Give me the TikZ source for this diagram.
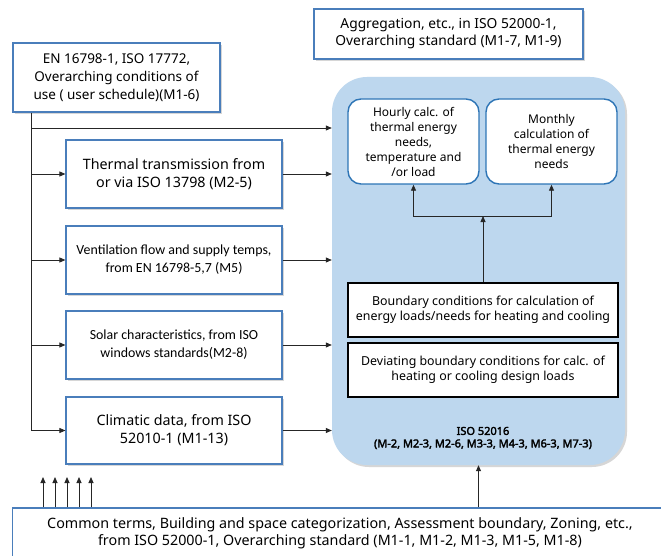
\documentclass[tikz,border=0pt]{standalone}
\usepackage{fontspec}
\setmainfont{Noto Sans}[AutoFakeBold=2.5]
\newfontfamily\condfont{Carlito}
\usetikzlibrary{arrows.meta,shadows,positioning}
\definecolor{boxblue}{HTML}{4A7EBB}
\definecolor{roundblue}{HTML}{2E75B6}
\definecolor{bigfill}{HTML}{BDD7EE}
\tikzset{
  shad/.style={drop shadow={shadow xshift=1.6pt,shadow yshift=-1.6pt,opacity=0.35,fill=black!45}},
  srcbox/.style={draw=boxblue,line width=1.2pt,fill=white,shad,align=center,inner sep=0pt,
    font=\fontsize{13.8}{18}\selectfont},
  innerround/.style={draw=roundblue,line width=1.4pt,fill=white,rounded corners=13pt,align=center,
    inner sep=0pt,minimum width=131pt,minimum height=85pt,font=\fontsize{12}{15}\selectfont},
  bcbox/.style={draw=black,line width=1.3pt,fill=white,align=center,inner sep=0pt,
    minimum width=270pt,minimum height=54pt,font=\fontsize{12.4}{15}\selectfont},
  arr/.style={-{Triangle[length=6pt,width=5pt]},line width=0.8pt,draw=black!85},
  ln/.style={line width=0.8pt,draw=black!85}
}
\begin{document}
\begin{tikzpicture}[x=1pt,y=-1pt]
\clip (0,0) rectangle (661,556);
\fill[white] (0,0) rectangle (661,556);

% big container
\node[fill=bigfill,rounded corners=35pt,minimum width=293pt,minimum height=388pt,inner sep=0pt,
  drop shadow={shadow xshift=2pt,shadow yshift=-2pt,opacity=0.4,fill=black!40}] (big) at (478.5,271) {};

% top boxes
\node[srcbox,minimum width=207pt,minimum height=69pt,font=\fontsize{13.5}{18}\selectfont] (use) at (116.5,77.5)
  {EN 16798-1, ISO 17772,\\Overarching conditions of\\use ( user schedule)(M1-6)};
\node[srcbox,minimum width=269pt,minimum height=50pt,font=\fontsize{13.8}{17}\selectfont] (agg) at (448.5,34)
  {Aggregation, etc., in ISO 52000-1,\\Overarching standard (M1-7, M1-9)};

% left boxes
\node[srcbox,minimum width=216pt,minimum height=68pt,font=\fontsize{14.3}{18}\selectfont] (therm) at (174,174)
  {Thermal transmission from\\or via ISO 13798 (M2-5)};
\node[srcbox,minimum width=216pt,minimum height=68pt,font=\condfont\fontsize{13.9}{18}\selectfont] (vent) at (174,260)
  {Ventilation flow and supply temps,\\from EN 16798-5,7 (M5)};
\node[srcbox,minimum width=216pt,minimum height=68pt,font=\condfont\fontsize{13.9}{18}\selectfont] (solar) at (174,345)
  {Solar characteristics, from ISO\\windows standards(M2-8)};
\node[srcbox,minimum width=216pt,minimum height=67pt,font=\fontsize{14.3}{18}\selectfont] (clim) at (174,430.5)
  {Climatic data, from ISO\\52010-1 (M1-13)};

% bottom box
\node[srcbox,minimum width=655pt,minimum height=50pt,font=\fontsize{14.3}{17}\selectfont] (common) at (340,533)
  {Common terms, Building and space categorization, Assessment boundary, Zoning, etc.,\\from ISO 52000-1, Overarching standard (M1-1, M1-2, M1-3, M1-5, M1-8)};

% inner boxes
\node[innerround] (hourly) at (413.5,141.5)
  {Hourly calc. of\\thermal energy\\needs,\\temperature and\\/or load};
\node[innerround] (monthly) at (551.5,141.5)
  {Monthly\\calculation of\\thermal energy\\needs};
\node[bcbox] (bound) at (483,310)
  {Boundary conditions for calculation of\\energy loads/needs for heating and cooling};
\node[bcbox] (dev) at (483,370)
  {Deviating boundary conditions for calc. of\\heating or cooling design loads};
\node[align=center,inner sep=0pt,font=\bfseries\fontsize{11}{12.5}\selectfont] (iso) at (483,438)
  {ISO 52016\\(M-2, M2-3, M2-6, M3-3, M4-3, M6-3, M7-3)};

% trunk on the left
\coordinate (tr) at (31,0);
\coordinate (r1) at (0,128);
\draw[ln] (use.south -| tr) -- (tr |- clim.west);
\draw[arr] (tr |- r1) -- (big.west |- r1);
\draw[arr] (tr |- therm.west) -- (therm.west);
\draw[arr] (tr |- vent.west) -- (vent.west);
\draw[arr] (tr |- solar.west) -- (solar.west);
\draw[arr] (tr |- clim.west) -- (clim.west);

% to big box
\draw[arr] (therm.east) -- (therm.east -| big.west);
\draw[arr] (vent.east) -- (vent.east -| big.west);
\draw[arr] (solar.east) -- (solar.east -| big.west);
\draw[arr] (clim.east) -- (clim.east -| big.west);

% tree inside
\coordinate (j) at (483,216);
\draw[arr] (bound.north) -- (j);
\draw[arr] (j) -| (hourly.south);
\draw[arr] (j) -| (monthly.south);

% bottom arrows
\coordinate (up) at (0,477);
\foreach \xx/\nm in {43/a,55/b,67/c,79/d,91/e}{
  \coordinate (b\nm) at (\xx,0);
  \draw[arr] (common.north -| b\nm) -- (b\nm |- up);
}
\draw[arr] (common.north -| big.south) -- (big.south);
\end{tikzpicture}
\end{document}
